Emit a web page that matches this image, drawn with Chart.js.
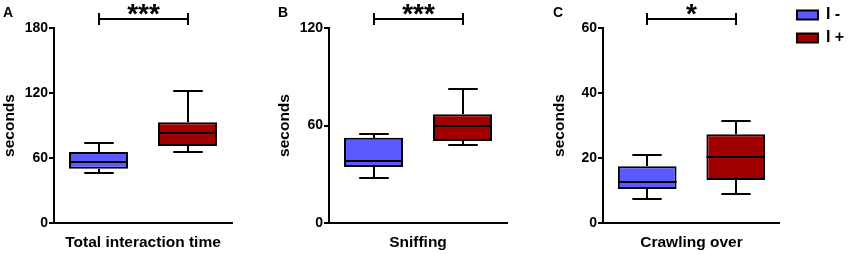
<!DOCTYPE html>
<html>
<head>
<meta charset="utf-8">
<script src="https://cdn.jsdelivr.net/npm/chart.js@4.4.0/dist/chart.umd.min.js"></script>
<style>
  html, body { margin: 0; padding: 0; background: #fff; }
  #wrap { position: relative; width: 851px; height: 254px; }
  canvas { position: absolute; top: 0; }
</style>
</head>
<body>
<div id="wrap">
  <canvas id="panelA" width="275" height="254" style="left:0px"></canvas>
  <canvas id="panelB" width="275" height="254" style="left:275px"></canvas>
  <canvas id="panelC" width="301" height="254" style="left:550px"></canvas>
</div>
<script>
// groups and panels
const groups = ['I -', 'I +']
const letters = ['A', 'B', 'C']
const titles = ['Total interaction time', 'Sniffing', 'Crawling over']
const yMax = [180, 120, 60]
const yStep = [60, 60, 20]
const stars = ['***', '***', '*']

// box values: [min, q1, median, q3, max]
const totalMinus = [46, 50, 56.5, 65.5, 74]
const totalPlus = [65.5, 71, 83, 93, 122]
const sniffMinus = [27.5, 34.5, 38, 52.5, 55]
const sniffPlus = [48, 50.5, 60, 67, 82.5]
const crawlMinus = [7.5, 10.5, 12.5, 17.5, 20.8]
const crawlPlus = [9, 13.2, 20.2, 27.3, 31.3]

const blue = '#5a5aff'
const red = '#a00000'

Chart.defaults.font.family = '"Liberation Sans", Arial, sans-serif'
Chart.defaults.font.weight = 'bold'
Chart.defaults.color = '#000'

// whiskers, medians and the significance bracket
const boxWhiskers = {
  id: 'boxWhiskers',
  afterDatasetsDraw(chart, args, opts) {
    const ctx = chart.ctx
    const y = chart.scales.y
    const mids = []
    ctx.save()
    ctx.strokeStyle = '#000'
    ctx.lineWidth = 2
    chart.data.datasets.forEach((ds, i) => {
      const bar = chart.getDatasetMeta(i).data[0]
      const s = ds.stats
      const half = bar.width / 2
      const cap = bar.width / 4
      const px = v => Math.round(y.getPixelForValue(v))
      const cx = Math.round(bar.x)
      ctx.beginPath()
      ctx.moveTo(cx, px(s[3])); ctx.lineTo(cx, px(s[4]))
      ctx.moveTo(cx - cap, px(s[4])); ctx.lineTo(cx + cap, px(s[4]))
      ctx.moveTo(cx, px(s[1])); ctx.lineTo(cx, px(s[0]))
      ctx.moveTo(cx - cap, px(s[0])); ctx.lineTo(cx + cap, px(s[0]))
      ctx.moveTo(bar.x - half, px(s[2])); ctx.lineTo(bar.x + half, px(s[2]))
      ctx.stroke()
      mids.push(cx)
    })
    // bracket
    ctx.beginPath()
    ctx.moveTo(mids[0], 19); ctx.lineTo(mids[1], 19)
    ctx.moveTo(mids[0], 13); ctx.lineTo(mids[0], 25)
    ctx.moveTo(mids[1], 13); ctx.lineTo(mids[1], 25)
    ctx.stroke()
    ctx.fillStyle = '#000'
    ctx.font = 'bold 28px "Liberation Sans", Arial, sans-serif'
    ctx.textAlign = 'center'
    ctx.textBaseline = 'alphabetic'
    ctx.fillText(opts.stars, (mids[0] + mids[1]) / 2, 23)
    ctx.restore()
  }
}

// move the legend a little right of the plot
const legendShift = {
  id: 'legendShift',
  afterLayout(chart, args, opts) {
    if (!chart.legend || !opts.dx) return
    chart.legend.left += opts.dx
    chart.legend.right += opts.dx
  }
}

function makePanel(id, k, minus, plus) {
  const last = k === 2
  return new Chart(document.getElementById(id), {
    type: 'bar',
    data: {
      labels: [titles[k]],
      datasets: [
        { label: groups[0], data: [[minus[1], minus[3]]], stats: minus,
          backgroundColor: blue, borderColor: '#000', borderWidth: 2, borderSkipped: false,
          categoryPercentage: 1, barPercentage: 0.663 },
        { label: groups[1], data: [[plus[1], plus[3]]], stats: plus,
          backgroundColor: red, borderColor: '#000', borderWidth: 2, borderSkipped: false,
          categoryPercentage: 1, barPercentage: 0.663 }
      ]
    },
    options: {
      responsive: false,
      animation: false,
      devicePixelRatio: 1,
      layout: { padding: { left: 3, right: last ? 6.8 : 43, top: 0, bottom: 0 } },
      plugins: {
        title: { display: true, text: letters[k], align: 'start',
          font: { size: 14, weight: 'bold' }, color: '#000',
          padding: { top: 4.6, bottom: 6.6 } },
        legend: { display: last, position: 'right', align: 'start',
          labels: { boxWidth: 21, boxHeight: 9, padding: 7, color: '#000',
            font: { size: 16, weight: 'bold' } } },
        tooltip: { enabled: false },
        boxWhiskers: { stars: stars[k] },
        legendShift: { dx: last ? 10 : 0 }
      },
      scales: {
        x: {
          grid: { display: false },
          border: { display: true, color: '#000', width: 2 },
          ticks: { display: false },
          title: { display: true, text: titles[k], color: '#000',
            font: { size: 15.5, weight: 'bold' }, padding: { top: 0, bottom: 2 } },
          afterFit: s => { s.height = 31 }
        },
        y: {
          min: 0,
          max: yMax[k],
          ticks: { stepSize: yStep[k], color: '#000', padding: 1,
            font: { size: 14, weight: 'bold' } },
          grid: { drawOnChartArea: false, drawTicks: true, tickLength: 5, color: '#000', lineWidth: 2 },
          border: { display: true, color: '#000', width: 2 },
          title: { display: true, text: 'seconds', color: '#000',
            font: { size: 15.5, weight: 'bold' }, padding: { top: -3, bottom: 0 } },
          afterFit: s => { s.width = last ? 50 : 51 }
        }
      }
    },
    plugins: [boxWhiskers, legendShift]
  })
}

makePanel('panelA', 0, totalMinus, totalPlus)
makePanel('panelB', 1, sniffMinus, sniffPlus)
makePanel('panelC', 2, crawlMinus, crawlPlus)
</script>
</body>
</html>
